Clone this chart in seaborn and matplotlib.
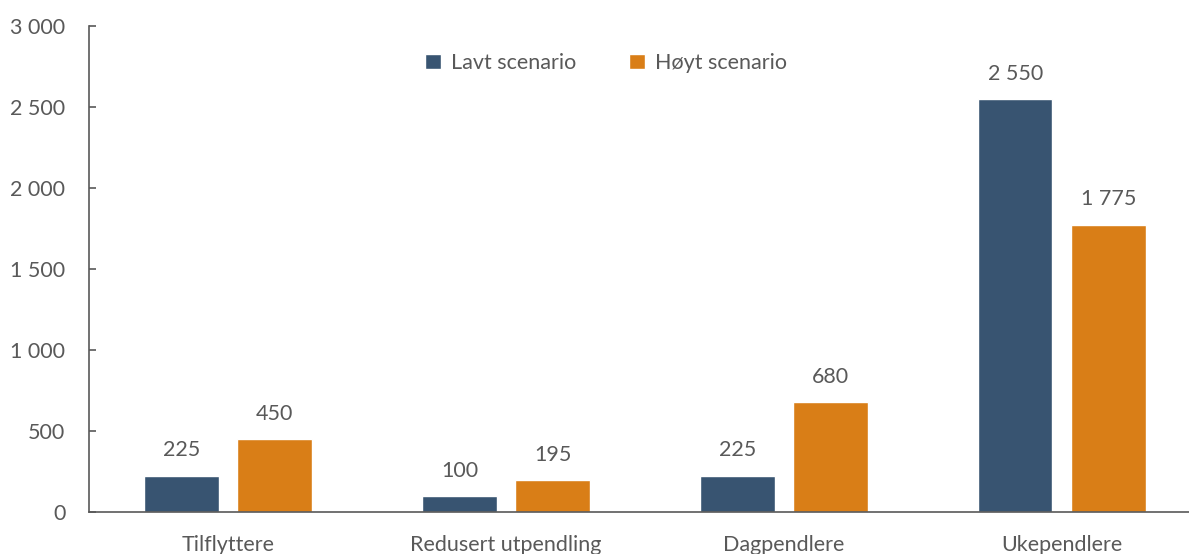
import pandas as pd
import matplotlib
matplotlib.use("Agg")
import matplotlib.pyplot as plt
import seaborn as sns
from matplotlib.ticker import FuncFormatter

categories = ["Tilflyttere", "Redusert utpendling", "Dagpendlere", "Ukependlere"]
lavt = [225, 100, 225, 2550]
hoyt = [450, 195, 680, 1775]
series_names = ["Lavt scenario", "Høyt scenario"]
colors = ["#385471", "#D97E17"]

df = pd.DataFrame({
    "kategori": categories * 2,
    "verdi": lavt + hoyt,
    "scenario": [series_names[0]] * 4 + [series_names[1]] * 4,
})

sns.set_style("white")
plt.rcParams["font.family"] = ["Lato", "DejaVu Sans"]
txt = "#595959"
fs = 15.5


def fmt(v, pos=None):
    return f"{int(round(v)):,}".replace(",", " ")


fig = plt.figure(figsize=(11.89, 5.54), dpi=100)
# axes runs a bit past the right edge, like the original
ax = fig.add_axes([0.0749, 0.0758, 0.935, 0.877])

sns.barplot(data=df, x="kategori", y="verdi", hue="scenario",
            palette=colors, width=0.67, gap=0.2, saturation=1,
            ax=ax, legend=True)

for cont in ax.containers:
    ax.bar_label(cont, labels=[fmt(v) for v in cont.datavalues],
                 padding=11, fontsize=fs, color=txt)

ax.set_ylim(0, 3000)
ax.set_xlim(-0.5, 3.5)
ax.set_yticks(range(0, 3001, 500))
ax.yaxis.set_major_formatter(FuncFormatter(fmt))
ax.set_xlabel("")
ax.set_ylabel("")
for s in ["top", "right"]:
    ax.spines[s].set_visible(False)
for s in ["left", "bottom"]:
    ax.spines[s].set_color("#595959")
    ax.spines[s].set_linewidth(1.2)
ax.tick_params(axis="y", left=True, direction="in", length=5, width=1.2,
               color="#595959", labelsize=fs, labelcolor=txt, pad=17)
ax.tick_params(axis="x", bottom=False, labelsize=fs, labelcolor=txt, pad=13)

leg = ax.legend(loc="center", bbox_to_anchor=(0.465, 0.924), ncol=2, frameon=False,
                fontsize=fs, handlelength=0.75, handleheight=0.75, columnspacing=2.45,
                handletextpad=0.45)
for t in leg.get_texts():
    t.set_color(txt)

fig.savefig("out.png", dpi=100)
